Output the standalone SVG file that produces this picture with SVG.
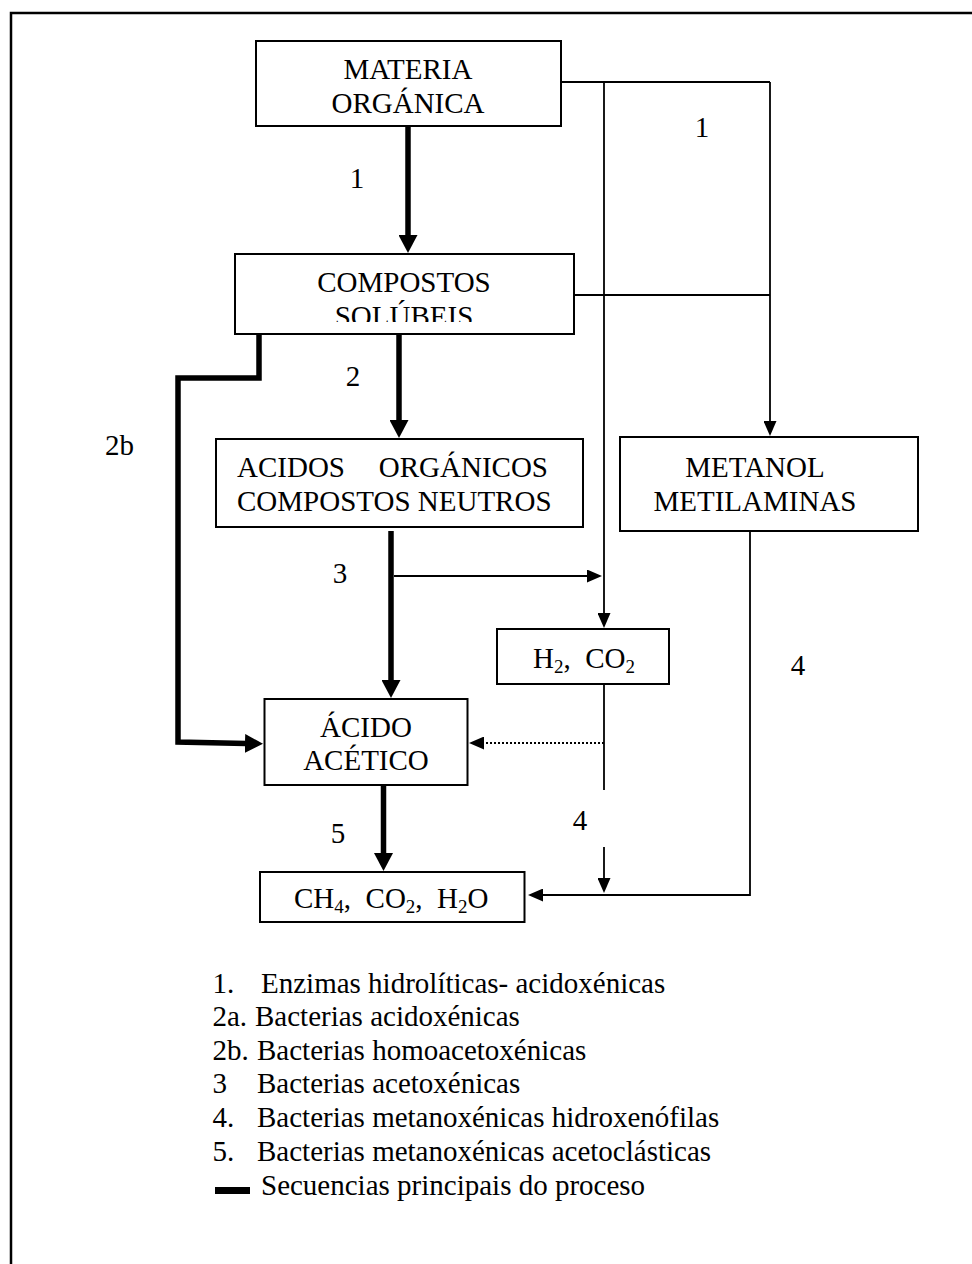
<svg xmlns="http://www.w3.org/2000/svg" width="972" height="1264" viewBox="0 0 972 1264">
<style>
text{font-family:"Liberation Serif","Times New Roman",serif;font-size:29px;fill:#000;white-space:pre}
.c{text-anchor:middle}
.e{text-anchor:end}
.box{fill:#fff;stroke:#000;stroke-width:2}
.thick{fill:none;stroke:#000;stroke-width:5.5}
.thin{fill:none;stroke:#000;stroke-width:1.8}
.dot{fill:none;stroke:#000;stroke-width:1.8;stroke-dasharray:2 2}
.sub{font-size:19px}
</style>
<defs>
<marker id="ah" markerUnits="userSpaceOnUse" markerWidth="19" markerHeight="19" refX="1" refY="9.5" orient="auto">
<path d="M0,0 L18,9.5 L0,19 z" fill="#000"/>
</marker>
<marker id="at" markerUnits="userSpaceOnUse" markerWidth="16" markerHeight="13" refX="1" refY="6.5" orient="auto">
<path d="M0,0 L15,6.5 L0,13 z" fill="#000"/>
</marker>
<clipPath id="clipSol"><rect x="235" y="254" width="339" height="68"/></clipPath>
</defs>
<rect x="0" y="0" width="972" height="1264" fill="#fff"/>
<path d="M11,1264 V13 H972" fill="none" stroke="#000" stroke-width="2.5"/>

<g id="connectors">
<path class="thick" d="M408,126 V236" marker-end="url(#ah)"/>
<path class="thick" d="M399,334 V421" marker-end="url(#ah)"/>
<path class="thick" d="M391,531 V681" marker-end="url(#ah)"/>
<path class="thick" d="M383.5,785 V854" marker-end="url(#ah)"/>
<path class="thick" d="M259,334 V378 H178 V742 L246,743.5" marker-end="url(#ah)"/>
<path class="thin" d="M561,82 H770"/>
<path class="thin" d="M604,82 V614" marker-end="url(#at)"/>
<path class="thin" d="M770,82 V422" marker-end="url(#at)"/>
<path class="thin" d="M574,295 H770"/>
<path class="thin" d="M394,576 H588" marker-end="url(#at)"/>
<path class="thin" d="M604,684 V790"/>
<path class="thin" d="M604,847 V879" marker-end="url(#at)"/>
<path class="dot" d="M604,743 H483" marker-end="url(#at)"/>
<path class="thin" d="M750,531 V895 H542" marker-end="url(#at)"/>
<text class="c" x="357" y="188">1</text>
<text class="c" x="702" y="137">1</text>
<text class="c" x="353" y="386">2</text>
<text x="105" y="455">2b</text>
<text class="c" x="340" y="583">3</text>
<text class="c" x="580" y="830">4</text>
<text class="c" x="798" y="675">4</text>
<text class="c" x="338" y="843">5</text>
</g>

<g id="materia">
<rect class="box" x="256" y="41" width="305" height="85"/>
<text class="c" x="408" y="79">MATERIA</text>
<text class="c" x="408" y="113">ORGÁNICA</text>
</g>

<g id="compostos">
<rect class="box" x="235" y="254" width="339" height="80"/>
<text class="c" x="404" y="292">COMPOSTOS</text>
<text class="c" x="404" y="326" clip-path="url(#clipSol)">SOLÚBEIS</text>
</g>

<g id="acidos">
<rect class="box" x="216" y="439" width="367" height="88"/>
<text x="237" y="477">ACIDOS</text>
<text class="e" x="548" y="477">ORGÁNICOS</text>
<text x="237" y="511">COMPOSTOS NEUTROS</text>
</g>

<g id="metanol">
<rect class="box" x="620" y="437" width="298" height="94"/>
<text class="c" x="755" y="477">METANOL</text>
<text class="c" x="755" y="511">METILAMINAS</text>
</g>

<g id="h2co2">
<rect class="box" x="497" y="629" width="172" height="55"/>
<text x="533" y="668">H<tspan class="sub" dy="5">2</tspan><tspan dy="-5">,  CO</tspan><tspan class="sub" dy="5">2</tspan></text>
</g>

<g id="acetico">
<rect class="box" x="264.5" y="699" width="203" height="86"/>
<text class="c" x="366" y="737">ÁCIDO</text>
<text class="c" x="366" y="770">ACÉTICO</text>
</g>

<g id="ch4">
<rect class="box" x="260" y="872" width="264.5" height="50"/>
<text x="294" y="908">CH<tspan class="sub" dy="5">4</tspan><tspan dy="-5">,  CO</tspan><tspan class="sub" dy="5">2</tspan><tspan dy="-5">,  H</tspan><tspan class="sub" dy="5">2</tspan><tspan dy="-5">O</tspan></text>
</g>

<g id="legend">
<text x="212.5" y="993">1.</text>
<text x="261" y="993">Enzimas hidrolíticas- acidoxénicas</text>
<text x="212.5" y="1026">2a.</text>
<text x="255" y="1026">Bacterias acidoxénicas</text>
<text x="212.5" y="1060">2b.</text>
<text x="257" y="1060">Bacterias homoacetoxénicas</text>
<text x="212.5" y="1093">3</text>
<text x="257" y="1093">Bacterias acetoxénicas</text>
<text x="212.5" y="1127">4.</text>
<text x="257" y="1127">Bacterias metanoxénicas hidroxenófilas</text>
<text x="212.5" y="1161">5.</text>
<text x="257" y="1161">Bacterias metanoxénicas acetoclásticas</text>
<rect x="215" y="1187" width="35" height="7" fill="#000"/>
<text x="261" y="1195">Secuencias principais do proceso</text>
</g>
</svg>
